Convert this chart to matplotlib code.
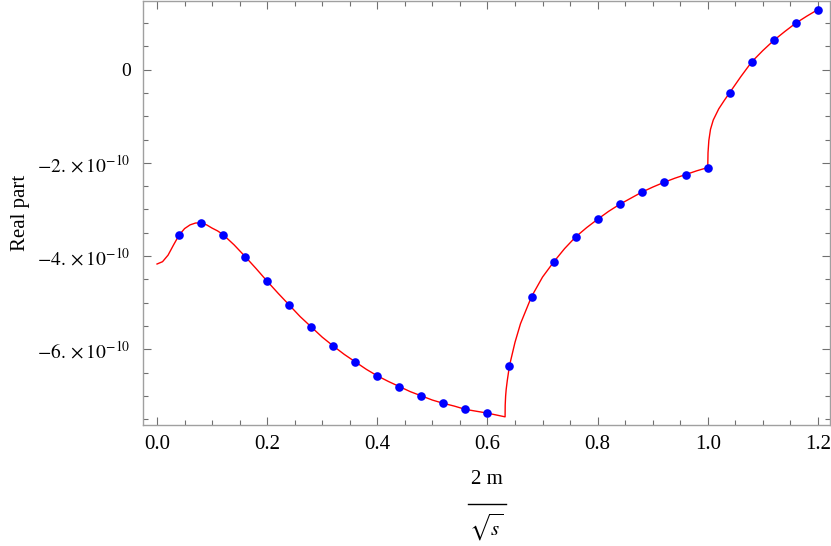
import numpy as np
import matplotlib
matplotlib.use("Agg")
import matplotlib.pyplot as plt
from matplotlib.ticker import MultipleLocator, FuncFormatter
from matplotlib.lines import Line2D

plt.rcParams['font.family'] = ['Liberation Serif', 'DejaVu Serif']
plt.rcParams['mathtext.fontset'] = 'stix'

SCALE = 1e-10

# red curve, three branches (values in units of 1e-10)
curve1_x = [0.0, 0.01, 0.02, 0.03, 0.04, 0.05, 0.06, 0.07, 0.08, 0.09, 0.10, 0.11, 0.12,
            0.14, 0.16, 0.18, 0.20, 0.22, 0.24, 0.26, 0.28, 0.30, 0.32, 0.34, 0.36, 0.38,
            0.40, 0.42, 0.44, 0.46, 0.48, 0.50, 0.52, 0.54, 0.56, 0.58, 0.60, 0.62, 0.632]
curve1_y = [-4.17, -4.12, -3.98, -3.76, -3.55, -3.41, -3.33, -3.29, -3.29, -3.33, -3.40, -3.46, -3.54,
            -3.76, -4.01, -4.27, -4.54, -4.80, -5.05, -5.30, -5.52, -5.74, -5.93, -6.11, -6.27, -6.43,
            -6.57, -6.69, -6.80, -6.91, -7.00, -7.09, -7.16, -7.22, -7.29, -7.33, -7.37, -7.42, -7.45]
curve2_x = [0.632, 0.6322, 0.633, 0.634, 0.636, 0.64, 0.65, 0.66, 0.68, 0.70, 0.72, 0.74, 0.76,
            0.78, 0.80, 0.82, 0.84, 0.86, 0.88, 0.90, 0.92, 0.94, 0.96, 0.98, 1.0]
curve2_y = [-7.45, -7.20, -7.00, -6.86, -6.67, -6.35, -5.85, -5.45, -4.87, -4.45, -4.13, -3.84, -3.59,
            -3.39, -3.21, -3.04, -2.89, -2.76, -2.63, -2.52, -2.42, -2.33, -2.25, -2.17, -2.10]
curve3_x = [1.0, 1.0005, 1.002, 1.005, 1.01, 1.02, 1.03, 1.04, 1.06, 1.08, 1.10, 1.12, 1.14,
            1.16, 1.18, 1.20]
curve3_y = [-2.10, -1.78, -1.52, -1.28, -1.08, -0.84, -0.66, -0.49, -0.15, 0.17, 0.41, 0.63, 0.82,
            1.00, 1.15, 1.29]

# blue sample points
dots_x = [0.04, 0.08, 0.12, 0.16, 0.20, 0.24, 0.28, 0.32, 0.36, 0.40, 0.44, 0.48, 0.52, 0.56, 0.60,
          0.64, 0.68, 0.72, 0.76, 0.80, 0.84, 0.88, 0.92, 0.96, 1.00, 1.04, 1.08, 1.12, 1.16, 1.20]
dots_y = [-3.55, -3.29, -3.54, -4.01, -4.54, -5.05, -5.52, -5.93, -6.27, -6.57, -6.80, -7.00, -7.16,
          -7.29, -7.37, -6.35, -4.87, -4.13, -3.59, -3.21, -2.89, -2.63, -2.42, -2.25, -2.10,
          -0.49, 0.17, 0.63, 1.00, 1.29]

y_major = [0, -2, -4, -6]

fig = plt.figure(figsize=(8.31, 5.46), dpi=100)
ax = fig.add_axes([143 / 831, 1 - 425 / 546, 687 / 831, 424.5 / 546])

cx = curve1_x + curve2_x[1:] + curve3_x[1:]
cy = curve1_y + curve2_y[1:] + curve3_y[1:]
ax.plot(cx, np.array(cy) * SCALE, color='#ff0000', linewidth=1.0, zorder=2)
ax.plot(dots_x, np.array(dots_y) * SCALE, 'o', color='#0000ff', markersize=6.2,
        markeredgewidth=0, zorder=3)

ax.set_xlim(-0.0255, 1.222)
ax.set_ylim(-7.625 * SCALE, 1.485 * SCALE)

ax.xaxis.set_major_locator(MultipleLocator(0.2))
ax.xaxis.set_minor_locator(MultipleLocator(0.05))
ax.set_yticks([v * SCALE for v in y_major])
ax.yaxis.set_minor_locator(MultipleLocator(0.5 * SCALE))
ax.xaxis.set_major_formatter(FuncFormatter(lambda v, p: '%.1f' % v))


def yfmt(v, p):
    n = int(round(v / SCALE))
    if n == 0:
        return '0'
    return r'$-%d.\times10^{-10}$' % abs(n)


ax.yaxis.set_major_formatter(FuncFormatter(yfmt))

frame_col = '#a0a0a0'
for s in ax.spines.values():
    s.set_color(frame_col)
    s.set_linewidth(1.0)
ax.tick_params(which='both', direction='in', top=True, right=True, color='#707070',
               labelcolor='black', width=0.8)
ax.tick_params(which='major', length=6)
ax.tick_params(which='minor', length=3.5)
ax.tick_params(axis='x', which='major', labelsize=15, pad=7)
ax.tick_params(axis='y', which='major', labelsize=14, pad=9)

fig.text(20 / 831, 1 - 213 / 546, 'Real part', rotation=90, ha='center', va='center', fontsize=15)

# x label drawn as a stacked fraction
xc = 486.5 / 831
fig.text(xc, 1 - 480 / 546, '2 m', ha='center', va='center', fontsize=15)
fig.add_artist(Line2D([xc - 19 / 831, xc + 19 / 831], [1 - 504 / 546, 1 - 504 / 546],
                      color='black', linewidth=1.0, transform=fig.transFigure))
fig.text(xc, 1 - 527 / 546, r'$\sqrt{s}$', ha='center', va='center', fontsize=15)

fig.savefig('out.png', dpi=100)
